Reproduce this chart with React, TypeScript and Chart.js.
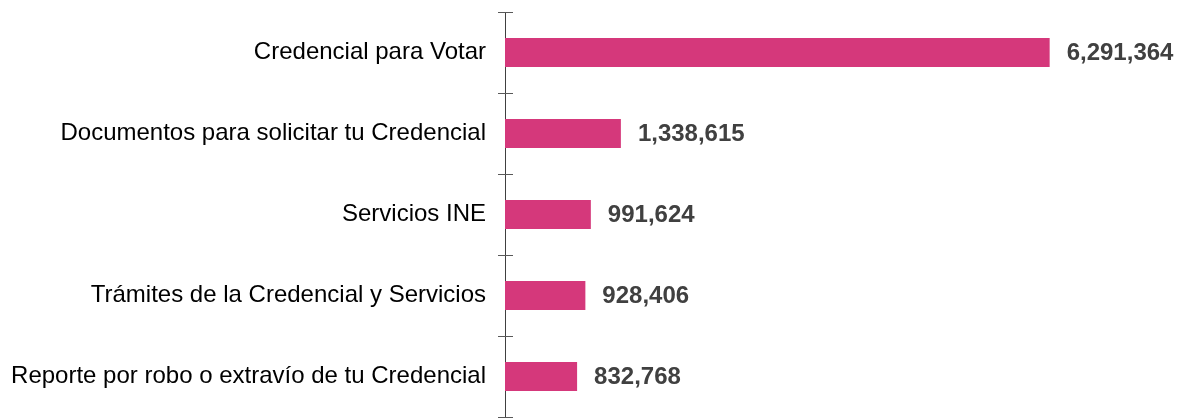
import React, { useEffect, useRef } from "react";
import { Chart, registerables } from "chart.js";

Chart.register(...registerables);

const categories = [
  "Credencial para Votar",
  "Documentos para solicitar tu Credencial",
  "Servicios INE",
  "Trámites de la Credencial y Servicios",
  "Reporte por robo o extravío de tu Credencial",
];
const values = [6291364, 1338615, 991624, 928406, 832768];

const BAR_COLOR = "#D5387B";
const FONT = "'Liberation Sans', Arial, sans-serif";

const tickPlugin = {
  id: "catTicks",
  afterDraw(chart: any) {
    const y = chart.scales.y;
    const ctx = chart.ctx;
    const x0 = chart.chartArea.left;
    ctx.save();
    ctx.strokeStyle = "#595959";
    ctx.lineWidth = 1;
    for (let i = 0; i <= categories.length; i++) {
      const py = Math.round(y.getPixelForValue(i - 0.5)) + 0.5;
      ctx.beginPath();
      ctx.moveTo(x0 - 7, py);
      ctx.lineTo(x0 + 8, py);
      ctx.stroke();
    }
    ctx.restore();
  },
};

const valueLabelPlugin = {
  id: "valueLabels",
  afterDatasetsDraw(chart: any) {
    const ctx = chart.ctx;
    const meta = chart.getDatasetMeta(0);
    ctx.save();
    ctx.font = `bold 24px ${FONT}`;
    ctx.fillStyle = "#404040";
    ctx.textAlign = "left";
    ctx.textBaseline = "middle";
    meta.data.forEach((bar: any, i: number) => {
      ctx.fillText(values[i].toLocaleString("en-US"), bar.x + 17, bar.y + 1);
    });
    ctx.restore();
  },
};

export default function App() {
  const ref = useRef<HTMLCanvasElement>(null);
  useEffect(() => {
    if (!ref.current) return;
    const chart = new Chart(ref.current, {
      type: "bar",
      data: {
        labels: categories,
        datasets: [
          {
            data: values,
            backgroundColor: BAR_COLOR,
            barPercentage: 0.36,
            categoryPercentage: 1,
          },
        ],
      },
      options: {
        indexAxis: "y",
        animation: false,
        responsive: false,
        layout: { padding: { top: 12, bottom: 1, right: 67, left: 0 } },
        plugins: { legend: { display: false }, tooltip: { enabled: false } },
        scales: {
          x: { display: false, min: 0, max: 7000000 },
          y: {
            grid: { display: false, drawTicks: false },
            border: { display: true, color: "#404040", width: 1 },
            ticks: {
              color: "#000",
              padding: 19,
              font: { size: 24, family: FONT },
            },
            afterFit(scale: any) {
              scale.width = 505;
              scale.paddingTop = 0;
              scale.paddingBottom = 0;
            },
          },
        },
      },
      plugins: [tickPlugin, valueLabelPlugin],
    });
    return () => chart.destroy();
  }, []);
  return (
    <div style={{ position: "absolute", left: 0, top: 0, width: 1178, height: 418, background: "#fff" }}>
      <canvas ref={ref} width={1178} height={418} />
    </div>
  );
}
